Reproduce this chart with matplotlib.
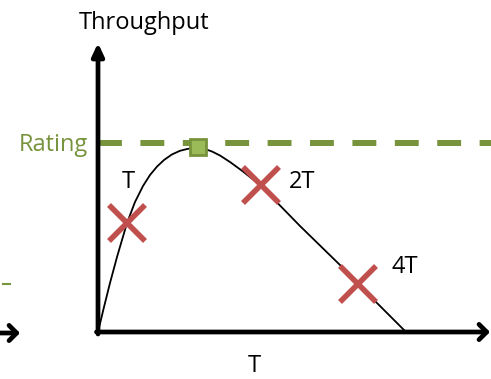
"""
Throughput vs load sketch: rating line, peak and sample points T / 2T / 4T
"""

import numpy as np
import matplotlib
matplotlib.use("Agg")
import matplotlib.pyplot as plt

# curve (load, throughput), arbitrary units
load = [0, 6, 12, 19, 29, 37, 45, 52, 59, 66, 74, 82, 90, 100,
        107, 114, 122, 132, 145, 162, 202, 242, 260, 308]
throughput = [0, 25, 49, 75, 109, 130, 146, 157, 165.4, 172, 177.6, 181.2, 183.2, 183.7,
              183, 180.5, 176.5, 170, 160.5, 147, 106, 67, 48, 0]

rating = 189
peak_load = [100]
peak_tput = [185]

# sample points marked with crosses
cross_labels = ["T", "2T", "4T"]
cross_load = [29, 163, 260]
cross_tput = [109, 147, 48]

GREEN = "#77933C"
GREEN_FILL = "#9BBB59"
RED = "#C0504D"
FONT = ["Open Sans", "DejaVu Sans"]


def draw(outfile):
    fig = plt.figure(figsize=(4.91, 3.79), dpi=100)
    ax = fig.add_axes([0, 0, 1, 1])
    ax.set_xlim(-98, 393)
    ax.set_ylim(-47, 332)
    ax.axis("off")

    # axes arrows
    ax.annotate("", xy=(0, 289), xytext=(0, -2),
                arrowprops=dict(arrowstyle="-|>,head_length=0.75,head_width=0.35",
                                lw=3.4, color="black", mutation_scale=10,
                                shrinkA=0, shrinkB=0))
    ax.annotate("", xy=(392, 0), xytext=(-1.5, 0),
                arrowprops=dict(arrowstyle="->,head_length=0.55,head_width=0.55",
                                lw=3.4, color="black", mutation_scale=10,
                                shrinkA=0, shrinkB=0))
    # leftover arrow of the neighbouring sketch
    ax.annotate("", xy=(-78, -1), xytext=(-110, -1),
                arrowprops=dict(arrowstyle="->,head_length=0.55,head_width=0.55",
                                lw=3.4, color="black", mutation_scale=10,
                                shrinkA=0, shrinkB=0))
    ax.plot([-95, -88], [48, 48], color=GREEN, lw=1.5)

    # rating line
    ax.plot([0, 393], [rating, rating], color=GREEN, lw=4.3,
            dashes=(4.0, 3.1), solid_capstyle="butt", zorder=2)

    # throughput curve
    ax.plot(load, throughput, color="black", lw=1.3, zorder=3)

    ax.plot(peak_load, peak_tput, marker="s", ms=12, mfc=GREEN_FILL,
            mec=GREEN, mew=2, ls="none", zorder=5)
    ax.plot(cross_load, cross_tput, marker="x", ms=26, mew=4, color=RED,
            ls="none", zorder=4)

    # labels
    ax.text(46, 303, "Throughput", fontsize=17, family=FONT,
            ha="center", va="baseline")
    ax.text(-10, 181, "Rating", fontsize=17, family=FONT, color=GREEN,
            ha="right", va="baseline")
    ax.text(156, -40, "T", fontsize=17, family=FONT, ha="center", va="baseline")
    label_pos = [(24, 144), (191, 144), (294, 59)]
    for lab, (x, y) in zip(cross_labels, label_pos):
        ax.text(x, y, lab, fontsize=17, family=FONT, ha="left", va="baseline")

    fig.savefig(outfile, dpi=100)


if __name__ == "__main__":
    draw("out.png")
